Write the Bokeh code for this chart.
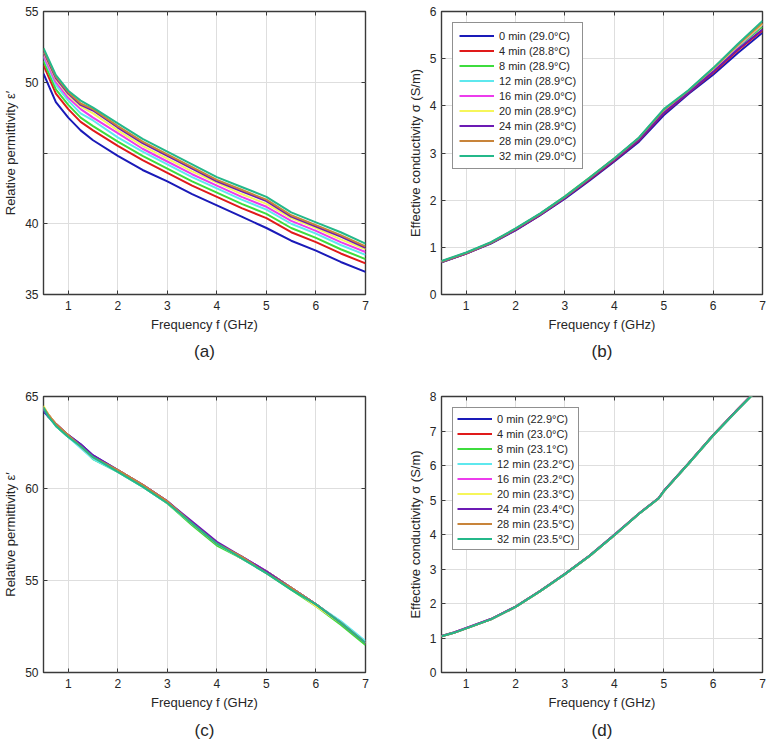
from bokeh.plotting import figure
from bokeh.layouts import gridplot
from bokeh.models import (Range1d, FixedTicker, LinearAxis, Legend, LegendItem, Title,
                          CustomLabelingPolicy)
from bokeh.embed import file_html
from bokeh.resources import INLINE

# ---------------- data ----------------
x_ticks = [1, 2, 3, 4, 5, 6, 7]

labels_b = ["0 min (29.0°C)", "4 min (28.8°C)", "8 min (28.9°C)", "12 min (28.9°C)",
            "16 min (29.0°C)", "20 min (28.9°C)", "24 min (28.9°C)", "28 min (29.0°C)",
            "32 min (29.0°C)"]
labels_d = ["0 min (22.9°C)", "4 min (23.0°C)", "8 min (23.1°C)", "12 min (23.2°C)",
            "16 min (23.2°C)", "20 min (23.3°C)", "24 min (23.4°C)", "28 min (23.5°C)",
            "32 min (23.5°C)"]
colors = ["#1a1ab8", "#e01a1a", "#3ddc3d", "#5ee8ee", "#ec3cec", "#f6f65a",
          "#6c1ab4", "#c8843a", "#24b88a"]

# (a) relative permittivity, sample 1
freq_a = [0.5, 0.75, 1.0, 1.25, 1.5, 2.0, 2.5, 3.0, 3.5, 4.0, 4.5, 5.0, 5.5, 6.0, 6.5, 7.0]
a_0min = [50.6, 48.6, 47.5, 46.6, 45.9, 44.8, 43.8, 43.0, 42.1, 41.3, 40.5, 39.7, 38.8, 38.1, 37.3, 36.6]
a_4min = [51.2, 49.2, 48.1, 47.2, 46.6, 45.5, 44.5, 43.6, 42.7, 41.9, 41.1, 40.4, 39.4, 38.7, 37.9, 37.2]
a_8min = [51.5, 49.5, 48.4, 47.5, 46.9, 45.8, 44.8, 43.9, 43.0, 42.2, 41.4, 40.7, 39.7, 39.0, 38.2, 37.5]
a_12min = [51.8, 49.8, 48.7, 47.8, 47.3, 46.1, 45.1, 44.2, 43.3, 42.5, 41.7, 41.0, 40.0, 39.3, 38.5, 37.8]
a_16min = [51.9, 50.0, 48.9, 48.1, 47.5, 46.4, 45.3, 44.4, 43.5, 42.7, 41.9, 41.2, 40.2, 39.5, 38.7, 38.0]
a_20min = [52.1, 50.2, 49.1, 48.3, 47.8, 46.6, 45.5, 44.6, 43.7, 42.9, 42.1, 41.4, 40.4, 39.7, 38.9, 38.2]
a_24min = [52.2, 50.3, 49.2, 48.4, 48.0, 46.8, 45.7, 44.8, 43.9, 43.0, 42.3, 41.6, 40.5, 39.8, 39.1, 38.3]
a_28min = [52.3, 50.4, 49.3, 48.5, 48.1, 46.9, 45.8, 44.9, 44.0, 43.1, 42.4, 41.7, 40.6, 39.9, 39.2, 38.4]
a_32min = [52.4, 50.5, 49.4, 48.7, 48.2, 47.1, 46.0, 45.1, 44.2, 43.3, 42.6, 41.9, 40.8, 40.1, 39.4, 38.6]

# (b) effective conductivity, sample 1
freq_b = [0.5, 1.0, 1.5, 2.0, 2.5, 3.0, 3.5, 4.0, 4.5, 5.0, 5.5, 6.0, 6.5, 7.0]
b_0min = [0.68, 0.87, 1.08, 1.36, 1.68, 2.03, 2.42, 2.82, 3.24, 3.80, 4.25, 4.66, 5.12, 5.55]
b_4min = [0.69, 0.87, 1.09, 1.37, 1.69, 2.05, 2.44, 2.84, 3.27, 3.84, 4.27, 4.70, 5.18, 5.60]
b_8min = [0.69, 0.88, 1.09, 1.38, 1.71, 2.07, 2.47, 2.87, 3.31, 3.90, 4.30, 4.75, 5.25, 5.68]
b_12min = [0.70, 0.88, 1.10, 1.39, 1.71, 2.07, 2.47, 2.87, 3.31, 3.89, 4.30, 4.76, 5.26, 5.72]
b_16min = [0.70, 0.88, 1.10, 1.39, 1.71, 2.07, 2.47, 2.88, 3.32, 3.90, 4.31, 4.77, 5.27, 5.73]
b_20min = [0.70, 0.88, 1.10, 1.39, 1.71, 2.08, 2.48, 2.88, 3.32, 3.91, 4.32, 4.78, 5.28, 5.74]
b_24min = [0.69, 0.87, 1.09, 1.37, 1.69, 2.05, 2.45, 2.85, 3.28, 3.85, 4.28, 4.72, 5.20, 5.62]
b_28min = [0.70, 0.88, 1.10, 1.39, 1.71, 2.07, 2.47, 2.88, 3.32, 3.91, 4.32, 4.79, 5.29, 5.76]
b_32min = [0.71, 0.89, 1.11, 1.40, 1.72, 2.08, 2.48, 2.89, 3.33, 3.93, 4.33, 4.80, 5.31, 5.80]

# (c) relative permittivity, sample 2
freq_c = [0.5, 0.6, 0.75, 1.0, 1.25, 1.5, 2.0, 2.5, 3.0, 3.5, 4.0, 4.5, 5.0, 5.5, 6.0, 6.5, 7.0]
c_0min = [64.2, 63.9, 63.5, 62.9, 62.4, 61.8, 61.0, 60.2, 59.3, 58.1, 57.0, 56.3, 55.5, 54.6, 53.7, 52.7, 51.6]
c_4min = [64.3, 64.0, 63.5, 62.9, 62.3, 61.7, 61.0, 60.2, 59.3, 58.1, 57.0, 56.2, 55.5, 54.6, 53.7, 52.7, 51.6]
c_8min = [64.4, 64.0, 63.4, 62.8, 62.3, 61.6, 60.9, 60.1, 59.2, 58.0, 56.9, 56.2, 55.4, 54.5, 53.6, 52.6, 51.5]
c_12min = [64.3, 63.9, 63.4, 62.8, 62.2, 61.6, 60.9, 60.1, 59.2, 58.1, 57.0, 56.2, 55.4, 54.6, 53.7, 52.8, 51.7]
c_16min = [64.4, 64.0, 63.5, 62.9, 62.3, 61.7, 61.0, 60.2, 59.3, 58.1, 57.0, 56.3, 55.5, 54.6, 53.7, 52.7, 51.6]
c_20min = [64.5, 64.0, 63.5, 62.9, 62.3, 61.7, 61.0, 60.2, 59.2, 58.1, 57.0, 56.2, 55.5, 54.6, 53.6, 52.7, 51.6]
c_24min = [64.3, 63.9, 63.5, 62.9, 62.4, 61.8, 61.0, 60.2, 59.3, 58.2, 57.1, 56.3, 55.5, 54.6, 53.7, 52.7, 51.6]
c_28min = [64.4, 64.0, 63.5, 62.9, 62.3, 61.7, 61.0, 60.2, 59.3, 58.1, 57.0, 56.3, 55.4, 54.6, 53.7, 52.7, 51.6]
c_32min = [64.4, 63.9, 63.4, 62.8, 62.3, 61.7, 60.9, 60.1, 59.2, 58.1, 57.0, 56.2, 55.4, 54.5, 53.7, 52.7, 51.6]

# (d) effective conductivity, sample 2
freq_d = [0.5, 0.75, 1.0, 1.5, 2.0, 2.5, 3.0, 3.5, 4.0, 4.5, 4.9, 5.0, 5.5, 6.0, 6.5, 7.0]
d_0min = [1.05, 1.15, 1.28, 1.54, 1.90, 2.36, 2.85, 3.38, 3.98, 4.60, 5.05, 5.25, 6.05, 6.87, 7.62, 8.35]
d_4min = [1.05, 1.15, 1.28, 1.54, 1.90, 2.36, 2.85, 3.38, 3.98, 4.61, 5.05, 5.25, 6.05, 6.88, 7.63, 8.36]
d_8min = [1.06, 1.16, 1.28, 1.55, 1.91, 2.37, 2.86, 3.39, 3.99, 4.61, 5.06, 5.26, 6.06, 6.88, 7.63, 8.36]
d_12min = [1.05, 1.15, 1.28, 1.54, 1.90, 2.36, 2.85, 3.38, 3.98, 4.60, 5.05, 5.25, 6.04, 6.86, 7.61, 8.34]
d_16min = [1.06, 1.16, 1.29, 1.55, 1.91, 2.37, 2.86, 3.39, 3.99, 4.61, 5.06, 5.26, 6.06, 6.88, 7.63, 8.37]
d_20min = [1.05, 1.15, 1.28, 1.54, 1.90, 2.36, 2.85, 3.38, 3.98, 4.60, 5.05, 5.25, 6.05, 6.87, 7.62, 8.35]
d_24min = [1.06, 1.16, 1.29, 1.55, 1.91, 2.37, 2.86, 3.39, 3.99, 4.61, 5.06, 5.26, 6.06, 6.88, 7.63, 8.36]
d_28min = [1.05, 1.15, 1.28, 1.54, 1.90, 2.36, 2.85, 3.38, 3.98, 4.60, 5.05, 5.25, 6.05, 6.87, 7.62, 8.35]
d_32min = [1.05, 1.15, 1.28, 1.54, 1.90, 2.36, 2.85, 3.38, 3.98, 4.60, 5.05, 5.25, 6.05, 6.87, 7.62, 8.35]

series_a = [a_0min, a_4min, a_8min, a_12min, a_16min, a_20min, a_24min, a_28min, a_32min]
series_b = [b_0min, b_4min, b_8min, b_12min, b_16min, b_20min, b_24min, b_28min, b_32min]
series_c = [c_0min, c_4min, c_8min, c_12min, c_16min, c_20min, c_24min, c_28min, c_32min]
series_d = [d_0min, d_4min, d_8min, d_12min, d_16min, d_20min, d_24min, d_28min, d_32min]

FONT = "Liberation Sans"
TXT = "#262626"
BOX = "#3a3a3a"

NO_LABELS = "for (const i of []) { yield i }"


def skip_label(idx):
    return CustomLabelingPolicy(code="for (const i of indices) { if (i != %d) yield i }" % idx)


def make_panel(freq, series, y0, y1, y_ticks, y_label, tag, width, height,
               borders, title_standoff, legend_labels=None, legend_padding=6,
               skip_y_index=None):
    bl, br, bt, bb = borders
    p = figure(width=width, height=height, output_backend="svg", toolbar_location=None,
               x_range=Range1d(0.5, 7), y_range=Range1d(y0, y1),
               min_border_left=bl, min_border_right=br, min_border_top=bt,
               min_border_bottom=bb)
    p.outline_line_color = BOX
    p.outline_line_width = 1.4
    p.background_fill_color = "white"
    p.border_fill_color = "white"

    renderers = []
    for ys, c in zip(series, colors):
        r = p.line(freq, ys, line_color=c, line_width=2)
        renderers.append(r)

    for ax in (p.xaxis[0], p.yaxis[0]):
        ax.axis_line_color = None
        ax.major_tick_in = 4
        ax.major_tick_out = 0
        ax.major_tick_line_color = BOX
        ax.minor_tick_line_color = None
        ax.major_label_text_font = FONT
        ax.major_label_text_font_size = "12px"
        ax.major_label_text_color = TXT
        ax.axis_label_text_font = FONT
        ax.axis_label_text_font_size = "13px"
        ax.axis_label_text_font_style = "normal"
        ax.axis_label_text_color = TXT
    p.xaxis.ticker = FixedTicker(ticks=x_ticks)
    p.yaxis.ticker = FixedTicker(ticks=y_ticks)
    p.xaxis.axis_label = "Frequency f (GHz)"
    p.yaxis.axis_label = y_label
    p.xaxis.major_label_standoff = 6
    p.xaxis.axis_label_standoff = 4
    p.yaxis.major_label_standoff = 5
    p.yaxis.axis_label_standoff = 4
    if skip_y_index is not None:
        p.yaxis.major_label_policy = skip_label(skip_y_index)

    # mirrored ticks on top / right (box style), without labels
    top = LinearAxis(ticker=FixedTicker(ticks=x_ticks), axis_line_color=None,
                     major_tick_in=4, major_tick_out=0, major_tick_line_color=BOX,
                     minor_tick_line_color=None, major_label_standoff=0,
                     major_label_policy=CustomLabelingPolicy(code=NO_LABELS))
    right = LinearAxis(ticker=FixedTicker(ticks=y_ticks), axis_line_color=None,
                       major_tick_in=4, major_tick_out=0, major_tick_line_color=BOX,
                       minor_tick_line_color=None, major_label_standoff=0,
                       major_label_policy=CustomLabelingPolicy(code=NO_LABELS))
    p.add_layout(top, "above")
    p.add_layout(right, "right")

    p.xgrid.ticker = FixedTicker(ticks=x_ticks)
    p.ygrid.ticker = FixedTicker(ticks=y_ticks)
    p.grid.grid_line_color = "#dedede"
    p.grid.grid_line_width = 1

    p.add_layout(Title(text=tag, align="center", text_font=FONT, text_font_size="17px",
                       text_font_style="normal", text_color=TXT,
                       standoff=title_standoff), "below")

    if legend_labels:
        items = [LegendItem(label=lab, renderers=[r]) for lab, r in zip(legend_labels, renderers)]
        leg = Legend(items=items, location="top_left", margin=11,
                     label_text_font=FONT, label_text_font_size="11px",
                     label_text_color=TXT, glyph_width=35, glyph_height=13,
                     label_height=13, spacing=2, padding=legend_padding, label_standoff=5,
                     border_line_color="#222222", border_line_width=1,
                     background_fill_color="white", background_fill_alpha=1.0)
        p.add_layout(leg)
    return p


pa = make_panel(freq_a, series_a, 35, 55, [35, 40, 45, 50, 55],
                "Relative permittivity ε′", "(a)", 404, 385, (40, 39, 10, 91), 11,
                skip_y_index=2)
pb = make_panel(freq_b, series_b, 0, 6, [0, 1, 2, 3, 4, 5, 6],
                "Effective conductivity σ (S/m)", "(b)", 367, 385, (37, 5, 10, 91), 11,
                legend_labels=labels_b, legend_padding=6)
pc = make_panel(freq_c, series_c, 50, 65, [50, 55, 60, 65],
                "Relative permittivity ε′", "(c)", 404, 360, (40, 39, 6, 70), 12)
pd = make_panel(freq_d, series_d, 0, 8, [0, 1, 2, 3, 4, 5, 6, 7, 8],
                "Effective conductivity σ (S/m)", "(d)", 367, 360, (37, 5, 6, 70), 12,
                legend_labels=labels_d, legend_padding=4)

grid = gridplot([[pa, pb], [pc, pd]], toolbar_location=None)

open("out.html", "w").write(file_html(grid, INLINE))
